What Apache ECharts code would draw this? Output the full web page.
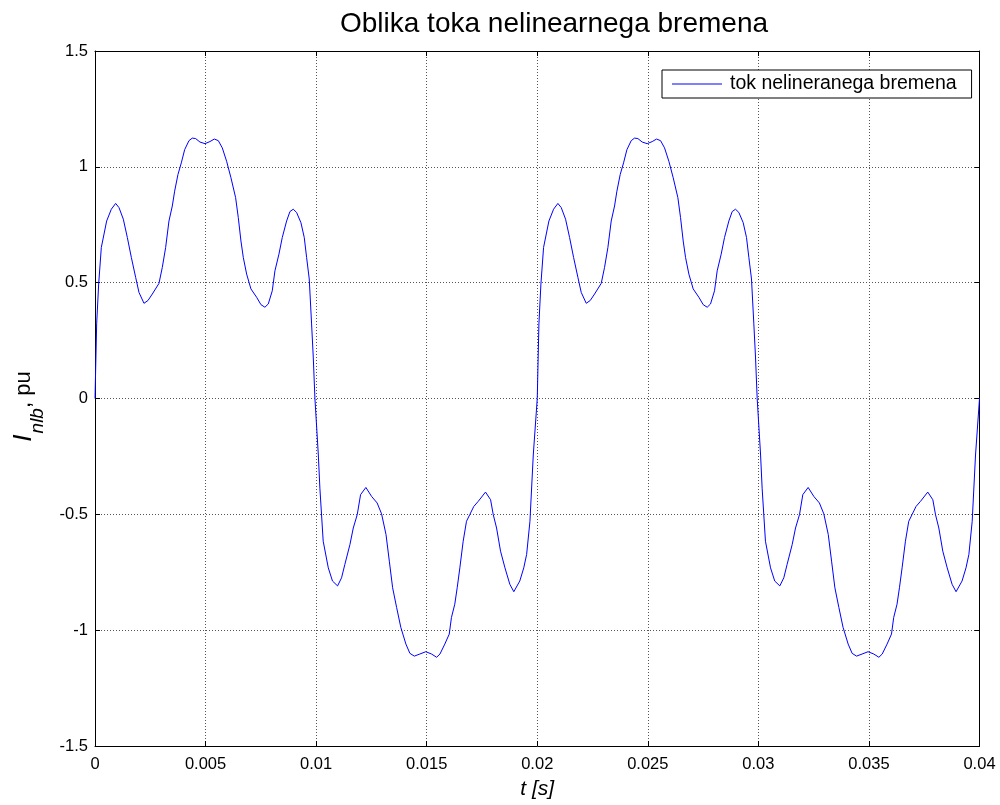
<!DOCTYPE html>
<html>
<head>
<meta charset="utf-8">
<script src="https://cdn.jsdelivr.net/npm/echarts@6/dist/echarts.min.js"></script>
<style>html,body{margin:0;padding:0;background:#fff;}#c{width:1000px;height:805px;}</style>
</head>
<body>
<div id="c"></div>
<script>
// time in milliseconds
var timeMs = [
0, 0.075, 0.166, 0.286, 0.527, 0.738, 0.934, 1.085, 1.281, 1.462, 1.643, 1.838, 1.989, 2.215, 2.396, 2.592, 2.893, 3.044, 3.195, 3.345, 3.496, 3.602, 3.752, 3.903, 4.054, 4.25, 4.40, 4.55, 4.747, 4.973, 5.199, 5.395, 5.576, 5.756, 5.952, 6.148, 6.359, 6.480, 6.600, 6.706, 6.857, 7.052, 7.309, 7.505, 7.685, 7.836, 8.017, 8.137, 8.318, 8.469, 8.665, 8.816, 8.966, 9.117, 9.313, 9.463, 9.569, 9.689, 9.795, 9.870, 9.946,
10.10, 10.17, 10.32, 10.55, 10.74, 10.97, 11.15, 11.30, 11.53, 11.68, 11.86, 12.01, 12.25, 12.51, 12.76, 12.96, 13.16, 13.31, 13.46, 13.64, 13.83, 14.06, 14.24, 14.44, 14.69, 14.96, 15.22, 15.45, 15.60, 15.82, 16.02, 16.12, 16.27, 16.38, 16.50, 16.65, 16.80, 16.95, 17.13, 17.33, 17.66, 17.89, 18.01, 18.16, 18.34, 18.54, 18.76, 18.94, 19.21, 19.39, 19.52, 19.67, 19.82,
20, 20.075, 20.166, 20.286, 20.527, 20.738, 20.934, 21.085, 21.281, 21.462, 21.643, 21.838, 21.989, 22.215, 22.396, 22.592, 22.893, 23.044, 23.195, 23.345, 23.496, 23.602, 23.752, 23.903, 24.054, 24.25, 24.40, 24.55, 24.747, 24.973, 25.199, 25.395, 25.576, 25.756, 25.952, 26.148, 26.359, 26.480, 26.600, 26.706, 26.857, 27.052, 27.309, 27.505, 27.685, 27.836, 28.017, 28.137, 28.318, 28.469, 28.665, 28.816, 28.966, 29.117, 29.313, 29.463, 29.569, 29.689, 29.795, 29.870, 29.946,
30.10, 30.17, 30.32, 30.55, 30.74, 30.97, 31.15, 31.30, 31.53, 31.68, 31.86, 32.01, 32.25, 32.51, 32.76, 32.96, 33.16, 33.31, 33.46, 33.64, 33.83, 34.06, 34.24, 34.44, 34.69, 34.96, 35.22, 35.45, 35.60, 35.82, 36.02, 36.12, 36.27, 36.38, 36.50, 36.65, 36.80, 36.95, 37.13, 37.33, 37.66, 37.89, 38.01, 38.16, 38.34, 38.54, 38.76, 38.94, 39.21, 39.39, 39.52, 39.67, 39.82,
40
];
// current in pu
var currentPu = [
0, 0.322, 0.494, 0.652, 0.766, 0.817, 0.842, 0.824, 0.774, 0.695, 0.609, 0.523, 0.458, 0.411, 0.423, 0.451, 0.497, 0.566, 0.652, 0.766, 0.831, 0.895, 0.967, 1.017, 1.074, 1.113, 1.124, 1.122, 1.107, 1.100, 1.109, 1.120, 1.113, 1.082, 1.024, 0.953, 0.867, 0.781, 0.680, 0.609, 0.537, 0.473, 0.437, 0.405, 0.394, 0.408, 0.465, 0.551, 0.623, 0.695, 0.766, 0.807, 0.817, 0.803, 0.759, 0.695, 0.609, 0.516, 0.322, 0.179, 0.0,
-0.244, -0.387, -0.616, -0.731, -0.788, -0.809, -0.774, -0.716, -0.630, -0.559, -0.501, -0.415, -0.384, -0.423, -0.451, -0.498, -0.587, -0.702, -0.817, -0.902, -0.988, -1.060, -1.100, -1.112, -1.103, -1.093, -1.103, -1.117, -1.103, -1.060, -1.017, -0.945, -0.888, -0.817, -0.731, -0.616, -0.530, -0.501, -0.466, -0.444, -0.404, -0.437, -0.501, -0.559, -0.659, -0.731, -0.802, -0.834, -0.788, -0.731, -0.673, -0.530, -0.244,
0, 0.322, 0.494, 0.652, 0.766, 0.817, 0.842, 0.824, 0.774, 0.695, 0.609, 0.523, 0.458, 0.411, 0.423, 0.451, 0.497, 0.566, 0.652, 0.766, 0.831, 0.895, 0.967, 1.017, 1.074, 1.113, 1.124, 1.122, 1.107, 1.100, 1.109, 1.120, 1.113, 1.082, 1.024, 0.953, 0.867, 0.781, 0.680, 0.609, 0.537, 0.473, 0.437, 0.405, 0.394, 0.408, 0.465, 0.551, 0.623, 0.695, 0.766, 0.807, 0.817, 0.803, 0.759, 0.695, 0.609, 0.516, 0.322, 0.179, 0.0,
-0.244, -0.387, -0.616, -0.731, -0.788, -0.809, -0.774, -0.716, -0.630, -0.559, -0.501, -0.415, -0.384, -0.423, -0.451, -0.498, -0.587, -0.702, -0.817, -0.902, -0.988, -1.060, -1.100, -1.112, -1.103, -1.093, -1.103, -1.117, -1.103, -1.060, -1.017, -0.945, -0.888, -0.817, -0.731, -0.616, -0.530, -0.501, -0.466, -0.444, -0.404, -0.437, -0.501, -0.559, -0.659, -0.731, -0.802, -0.834, -0.788, -0.731, -0.673, -0.530, -0.244,
0
];
var xTickLabels = ['0', '0.005', '0.01', '0.015', '0.02', '0.025', '0.03', '0.035', '0.04'];
var yTickLabels = ['-1.5', '-1', '-0.5', '0', '0.5', '1', '1.5'];
var seriesName = 'tok nelineranega bremena';
var titleText = 'Oblika toka nelinearnega bremena';

var FONT = 'Liberation Sans, Arial, sans-serif';
var data = timeMs.map(function (t, i) { return [t / 1000, currentPu[i]]; });

function fmtX(v) {
  var idx = Math.round(v / 0.005);
  return xTickLabels[idx] !== undefined ? xTickLabels[idx] : '';
}
function fmtY(v) {
  var idx = Math.round((v + 1.5) / 0.5);
  return yTickLabels[idx] !== undefined ? yTickLabels[idx] : '';
}

var gridLine = { show: true, lineStyle: { color: '#555', width: 1, type: [1, 2] } };
var chart = echarts.init(document.getElementById('c'), null, { renderer: 'canvas' });
chart.setOption({
  animation: false,
  backgroundColor: '#fff',
  title: {
    text: titleText,
    left: 549, top: 5, textAlign: 'center',
    textStyle: { fontFamily: FONT, fontSize: 28, fontWeight: 'normal', color: '#000' }
  },
  legend: {
    data: [{ name: seriesName, icon: 'rect' }],
    left: 662, top: 70,
    orient: 'vertical',
    padding: [4, 15, 4, 10],
    borderColor: '#000', borderWidth: 1, borderRadius: 0,
    backgroundColor: '#fff',
    itemWidth: 50, itemHeight: 1,
    itemStyle: { color: '#0000ff' },
    textStyle: { fontFamily: FONT, fontSize: 19.5, color: '#000', padding: [0, 0, 0, 3], lineHeight: 19 }
  },
  grid: { left: 95, right: 20.5, top: 51, bottom: 56, containLabel: false },
  xAxis: [{
    type: 'value', min: 0, max: 0.04, interval: 0.005,
    name: 't [s]', nameLocation: 'middle', nameGap: 33,
    nameTextStyle: { fontFamily: FONT, fontSize: 21, fontStyle: 'italic', color: '#000' },
    axisLine: { show: true, onZero: false, lineStyle: { color: '#000', width: 1 } },
    axisTick: { show: true, inside: true, length: 5, lineStyle: { color: '#000' } },
    axisLabel: { formatter: fmtX, margin: 10, fontFamily: FONT, fontSize: 16.5, color: '#000' },
    splitLine: gridLine
  }, {
    type: 'value', min: 0, max: 0.04, interval: 0.005, position: 'top',
    axisLine: { show: true, onZero: false, lineStyle: { color: '#000', width: 1 } },
    axisTick: { show: true, inside: true, length: 5, lineStyle: { color: '#000' } },
    axisLabel: { show: false }, splitLine: { show: false }
  }],
  yAxis: [{
    type: 'value', min: -1.5, max: 1.5, interval: 0.5,
    name: '{i|I}{s|nlb}{n|, pu}', nameLocation: 'middle', nameGap: 48, nameRotate: 90,
    nameTextStyle: {
      fontFamily: FONT, color: '#000', padding: [0, 16, 0, 0],
      rich: {
        i: { fontFamily: FONT, fontSize: 26, fontStyle: 'italic', color: '#000', lineHeight: 46, verticalAlign: 'middle' },
        s: { fontFamily: FONT, fontSize: 19, fontStyle: 'italic', color: '#000', lineHeight: 46, verticalAlign: 'bottom', padding: [0, 0, 0, 1] },
        n: { fontFamily: FONT, fontSize: 22, color: '#000', lineHeight: 46, verticalAlign: 'middle' }
      }
    },
    axisLine: { show: true, onZero: false, lineStyle: { color: '#000', width: 1 } },
    axisTick: { show: true, inside: true, length: 5, lineStyle: { color: '#000' } },
    axisLabel: { formatter: fmtY, margin: 7, fontFamily: FONT, fontSize: 16.5, color: '#000' },
    splitLine: gridLine
  }, {
    type: 'value', min: -1.5, max: 1.5, interval: 0.5, position: 'right',
    axisLine: { show: true, onZero: false, lineStyle: { color: '#000', width: 1 } },
    axisTick: { show: true, inside: true, length: 5, lineStyle: { color: '#000' } },
    axisLabel: { show: false }, splitLine: { show: false }
  }],
  series: [{
    name: seriesName, type: 'line', data: data,
    xAxisIndex: 0, yAxisIndex: 0,
    symbol: 'none', smooth: false,
    lineStyle: { color: '#0000ff', width: 1 },
    itemStyle: { color: '#0000ff' }
  }]
});
</script>
</body>
</html>
